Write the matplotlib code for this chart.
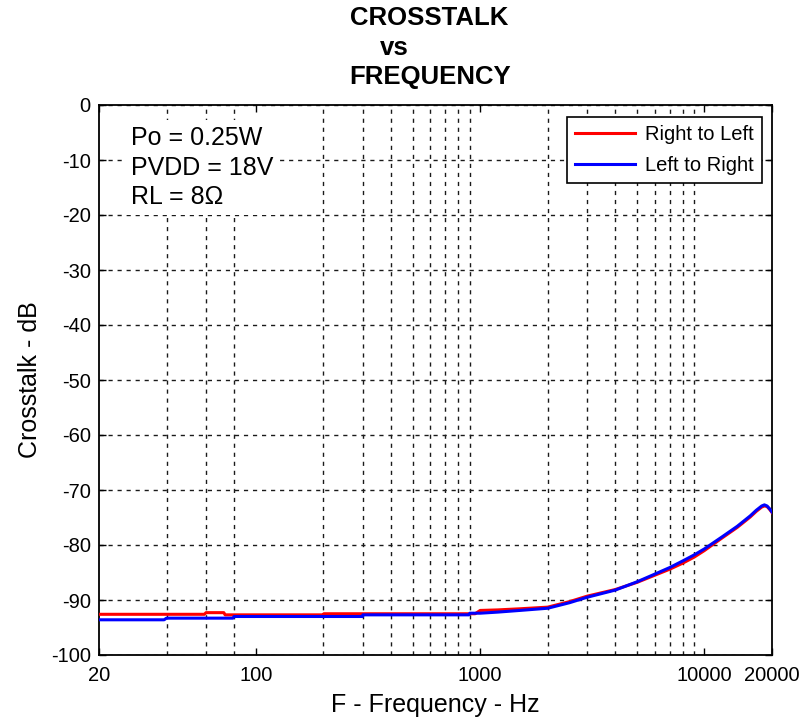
import numpy as np
import matplotlib.pyplot as plt
from matplotlib.ticker import FixedLocator, NullFormatter

plt.rcParams['font.family'] = ['Liberation Sans', 'DejaVu Sans']
plt.rcParams['axes.unicode_minus'] = False

# Right to Left crosstalk (red)
freq_rl = [20, 59, 60, 72, 73, 200, 201, 950, 1000, 1200, 1500, 2000, 2500, 3000,
           4000, 5000, 6000, 7000, 8000, 9000, 10000, 12000, 14000, 16000, 17000,
           18000, 18500, 19000, 19500, 20000]
xtalk_rl = [-92.6, -92.6, -92.3, -92.3, -92.7, -92.7, -92.5, -92.5, -91.9, -91.8,
            -91.6, -91.3, -90.3, -89.3, -88.1, -86.8, -85.5, -84.4, -83.3, -82.2,
            -81.0, -78.7, -76.8, -74.9, -73.9, -73.1, -72.9, -73.0, -73.5, -74.1]

# Left to Right crosstalk (blue)
freq_lr = [20, 39, 40, 79, 80, 299, 300, 890, 900, 1000, 1200, 1500, 2000, 2500, 3000,
           4000, 5000, 6000, 7000, 8000, 9000, 10000, 12000, 14000, 16000, 17000,
           18000, 18500, 19000, 19500, 20000]
xtalk_lr = [-93.6, -93.6, -93.3, -93.3, -93.0, -93.0, -92.7, -92.7, -92.4, -92.4,
            -92.2, -91.9, -91.5, -90.5, -89.5, -88.2, -86.7, -85.3, -84.1, -82.9,
            -81.8, -80.7, -78.5, -76.6, -74.7, -73.7, -72.9, -72.7, -72.9, -73.4, -74.0]

x_ticks = [20, 100, 1000, 10000, 20000]
x_tick_labels = ['20', '100', '1000', '10000', '20000']
x_grid = [40, 60, 80, 100, 200, 300, 400, 500, 600, 700, 800, 900,
          1000, 2000, 3000, 4000, 5000, 6000, 7000, 8000, 9000, 10000]
y_ticks = list(range(-100, 1, 10))

conditions = 'Po = 0.25W\nPVDD = 18V\nRL = 8\u03a9'

fig = plt.figure(figsize=(8.02, 7.18), dpi=100)
ax = fig.add_axes([99 / 802, 63 / 718, 673 / 802, 550 / 718])

ax.plot(freq_rl, xtalk_rl, color='#ff0000', lw=2.2, label='Right to Left', zorder=3)
ax.plot(freq_lr, xtalk_lr, color='#0000ff', lw=2.2, label='Left to Right', zorder=4)

ax.set_xscale('log')
ax.set_xlim(20, 20000)
ax.set_ylim(-100, 0)

ax.xaxis.set_major_locator(FixedLocator(x_ticks))
ax.set_xticklabels(x_tick_labels)
ax.xaxis.set_minor_locator(FixedLocator(x_grid))
ax.xaxis.set_minor_formatter(NullFormatter())
ax.set_yticks(y_ticks)

ax.tick_params(which='major', direction='in', top=True, right=True, length=5,
               width=1, labelsize=14.5)
ax.tick_params(axis='x', which='major', pad=8)
ax.tick_params(axis='y', which='major', pad=6)
ax.tick_params(which='minor', length=0)

grid_style = dict(color='#1a1a1a', lw=1.0, linestyle=(0, (3, 3.5)))
ax.grid(True, which='minor', axis='x', **grid_style)
ax.grid(True, which='major', axis='y', **grid_style)
ax.set_axisbelow(True)
for s in ax.spines.values():
    s.set_linewidth(1.3)

ax.set_xlabel('F - Frequency - Hz', fontsize=18, labelpad=6)
ax.set_ylabel('Crosstalk - dB', fontsize=18, labelpad=6)

ax.text(0.048, 0.962, conditions, transform=ax.transAxes, fontsize=18,
        va='top', ha='left', linespacing=1.3, zorder=5,
        bbox=dict(facecolor='white', edgecolor='none', pad=4))

leg = ax.legend(loc='upper right', bbox_to_anchor=(663 / 673, 1 - 12 / 550),
                borderaxespad=0, fontsize=14.5, fancybox=False, framealpha=1,
                edgecolor='black', handlelength=3.0, handletextpad=0.5,
                borderpad=0.4, labelspacing=0.6)
leg.get_frame().set_linewidth(1.2)

title_font = dict(fontsize=18.5, fontweight='bold', ha='center', va='center')
fig.text(429 / 802, 1 - 18 / 718, 'CROSSTALK', **title_font)
fig.text(394 / 802, 1 - 48 / 718, 'vs', **title_font)
fig.text(430 / 802, 1 - 77 / 718, 'FREQUENCY', **title_font)

fig.savefig('out.png', dpi=100)
